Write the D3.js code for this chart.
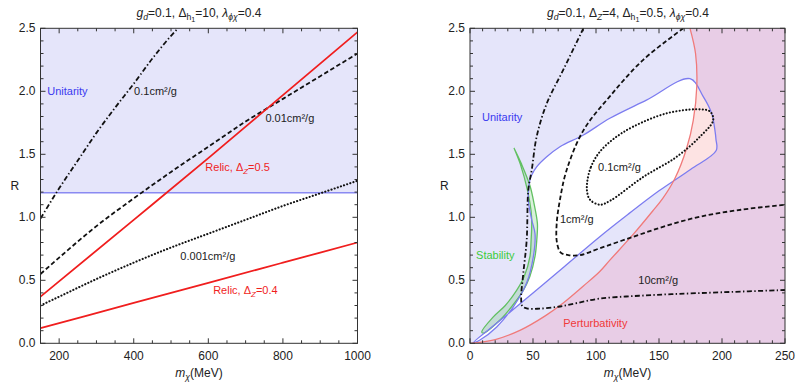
<!DOCTYPE html>
<html>
<head>
<meta charset="utf-8">
<script src="https://cdn.jsdelivr.net/npm/d3@7"></script>
<style>
  body { margin: 0; background: #fff; }
  svg text { font-family: "Liberation Sans", Arial, sans-serif; }
</style>
</head>
<body>
<div id="chart"></div>
<script>
// ---- left panel data (m in MeV, R) ----
const sig01L_m = [150, 200, 250, 300, 350, 400, 450, 500, 519];
const sig01L_R = [0.99, 1.23, 1.45, 1.67, 1.87, 2.06, 2.26, 2.44, 2.5];
const sig001L_m = [150, 200, 300, 400, 500, 600, 700, 800, 900, 1000];
const sig001L_R = [0.55, 0.68, 0.93, 1.15, 1.36, 1.56, 1.76, 1.94, 2.12, 2.30];
const sig0001L_m = [150, 200, 300, 400, 500, 600, 700, 800, 900, 1000];
const sig0001L_R = [0.30, 0.37, 0.51, 0.64, 0.76, 0.87, 0.98, 1.09, 1.19, 1.29];
const relic05_m = [150, 400, 600, 800, 1000];
const relic05_R = [0.37, 0.98, 1.47, 1.97, 2.47];
const relic04_m = [150, 400, 600, 800, 1000];
const relic04_R = [0.12, 0.32, 0.48, 0.64, 0.80];
const unitarityL_R = 1.195;

// ---- right panel data ----
// boundary of the region allowed by unitarity (white island)
const island = [[2,0.0],[25,0.19],[50,0.40],[75,0.61],[103,0.846],[125,1.02],[150,1.21],[175,1.38],[195.4,1.53],
  [195.2,1.62],[194.4,1.69],[191.8,1.825],[185,1.96],[174.6,2.10],[140,1.93],[111,1.786],[90,1.653],[71.4,1.56],
  [60.9,1.48],[52.9,1.40],[49,1.336],[47.6,1.30],[46.3,1.14],[49,0.98],[51.6,0.87],[50.3,0.69],[45,0.48],
  [34.4,0.29],[21.2,0.13],[7.9,0.026]];
// perturbativity boundary
const perturb = [[0,0],[20,0.03],[40,0.105],[60,0.22],[74,0.32],[90,0.455],[103,0.57],[111,0.66],[130,0.87],
  [145,1.05],[153,1.15],[162.7,1.31],[172,1.55],[177.2,1.77],[180,2.04],[179,2.3],[174.6,2.5]];
// stability crescent
const stabOuter = [[34.9,1.55],[41,1.42],[47.6,1.25],[51,1.10],[53.5,0.95],[53,0.82],[51.6,0.69],[47.5,0.53],
  [42.3,0.42],[33,0.29],[23.8,0.185],[10.6,0.08]];
const stabInner = [[9.3,0.09],[18.5,0.21],[28,0.30],[37,0.42],[43,0.53],[47.6,0.69],[48.5,0.82],[49,0.95],
  [48.5,1.05],[45.5,1.22],[40,1.42],[34.9,1.55]];
// cross-section contours
const sig10R = [[90,2.5],[74,2.17],[60.8,1.90],[52.9,1.64],[49,1.375],[46.3,1.22],[45,0.82],[42.3,0.555],
  [40.6,0.36],[41.5,0.295],[45,0.277],[55,0.275],[70,0.29],[85,0.32],[103,0.355],[130,0.375],[160,0.39],
  [200,0.405],[250,0.423]];
const sig1R = [[169.3,2.5],[137.5,2.25],[111,1.96],[90,1.69],[76.7,1.375],[71.4,1.14],[68.8,0.95],[69,0.80],
  [72,0.72],[78,0.70],[87.3,0.70],[103,0.754],[129.6,0.846],[155,0.93],[182.5,1.005],[215,1.06],[250,1.10]];
const sig01R = [[93,1.28],[96,1.40],[103,1.52],[115,1.63],[129.6,1.72],[156,1.825],[180,1.857],[190.5,1.84],
  [193,1.77],[182.5,1.64],[164,1.48],[137.5,1.32],[111,1.13],[103,1.10],[95.2,1.14],[93,1.20]];

// tick values
const yMajor = [0, 0.5, 1.0, 1.5, 2.0, 2.5];
const xMajorL = [200, 400, 600, 800, 1000];
const xMajorR = [0, 50, 100, 150, 200, 250];

const W = 797, H = 384;
const svg = d3.select("#chart").append("svg").attr("width", W).attr("height", H);

const y = d3.scaleLinear().domain([0, 2.5]).range([343.3, 28.3]);
const xL = d3.scaleLinear().domain([150, 1000]).range([40.5, 357.5]);
const xR = d3.scaleLinear().domain([0, 250]).range([470, 785]);

const FS = 12;
const subOff = [0, 0.28, 0.45];
const subSize = [1, 0.72, 0.6];

// text with italics / subscripts
function rich(g, x, yy, parts, fs, anchor, color) {
  const t = g.append("text").attr("x", x).attr("y", yy).attr("font-size", fs)
    .attr("text-anchor", anchor || "start").attr("fill", color || "#222");
  let lvl = 0;
  parts.forEach(p => {
    const L = p.s || 0;
    t.append("tspan")
      .attr("dy", ((subOff[L] - subOff[lvl]) * fs).toFixed(2))
      .attr("font-size", (fs * subSize[L]).toFixed(2))
      .attr("font-style", p.i ? "italic" : "normal")
      .text(p.t);
    lvl = L;
  });
  return t;
}

function frame(g, x, xMajor, xMinorStep, xFmt) {
  const [x0, x1] = x.range(), [y0, y1] = y.range();
  const ax = g.append("g").attr("stroke", "#333").attr("stroke-width", 1);
  const [d0, d1] = x.domain();
  const minorX = d3.range(Math.ceil(d0 / xMinorStep) * xMinorStep, d1 + 1e-6, xMinorStep);
  minorX.forEach(v => {
    const len = xMajor.some(m => Math.abs(m - v) < 1e-6) ? 5 : 3;
    ax.append("line").attr("x1", x(v)).attr("x2", x(v)).attr("y1", y0).attr("y2", y0 - len);
    ax.append("line").attr("x1", x(v)).attr("x2", x(v)).attr("y1", y1).attr("y2", y1 + len);
  });
  d3.range(0, 2.5001, 0.1).forEach(v => {
    const len = Math.abs(v * 2 - Math.round(v * 2)) < 1e-6 ? 5 : 3;
    ax.append("line").attr("y1", y(v)).attr("y2", y(v)).attr("x1", x0).attr("x2", x0 + len);
    ax.append("line").attr("y1", y(v)).attr("y2", y(v)).attr("x1", x1).attr("x2", x1 - len);
  });
  g.append("rect").attr("x", x0).attr("y", y1).attr("width", x1 - x0).attr("height", y0 - y1)
    .attr("fill", "none").attr("stroke", "#333").attr("stroke-width", 1);

  g.selectAll(null).data(xMajor).enter().append("text")
    .attr("x", d => x(d)).attr("y", 360).attr("text-anchor", "middle")
    .attr("font-size", FS).attr("fill", "#222").text(xFmt);
  g.selectAll(null).data(yMajor).enter().append("text")
    .attr("x", x0 - 5).attr("y", d => y(d) + 4).attr("text-anchor", "end")
    .attr("font-size", FS).attr("fill", "#222").text(d => d.toFixed(1));

  const cx = (x0 + x1) / 2;
  rich(g, cx, 377, [{t: "m", i: 1}, {t: "χ", i: 1, s: 1}, {t: "(MeV)"}], FS, "middle");
  g.append("text").attr("x", x0 - 30).attr("y", 190).attr("font-size", FS).attr("fill", "#222").text("R");
}

const black = "#111";
const styles = {
  dashed: {dash: "4.5,2.6", cap: "butt", w: 1.8},
  dotted: {dash: "0.1,3.2", cap: "round", w: 2.1},
  dashdot: {dash: "5,2.4,1.4,2.4", cap: "butt", w: 1.8}
};

function strokeLine(g, pts, x, curve, st, color, closed) {
  const line = d3.line().x(d => x(d[0])).y(d => y(d[1])).curve(curve);
  g.append("path").attr("d", line(pts) + (closed ? "Z" : ""))
    .attr("fill", "none").attr("stroke", color || black)
    .attr("stroke-width", st.w).attr("stroke-dasharray", st.dash || null)
    .attr("stroke-linecap", st.cap || "butt");
}

const zip = (a, b) => a.map((v, i) => [v, b[i]]);

// ================= LEFT PANEL =================
const gl = svg.append("g");
svg.append("clipPath").attr("id", "clipL").append("rect")
  .attr("x", xL.range()[0]).attr("y", y.range()[1])
  .attr("width", xL.range()[1] - xL.range()[0]).attr("height", y.range()[0] - y.range()[1]);
const pl = gl.append("g").attr("clip-path", "url(#clipL)");

pl.append("rect").attr("x", xL(150)).attr("y", y(2.5))
  .attr("width", xL(1000) - xL(150)).attr("height", y(unitarityL_R) - y(2.5))
  .attr("fill", "#e5e5fa");
pl.append("line").attr("x1", xL(150)).attr("x2", xL(1000))
  .attr("y1", y(unitarityL_R)).attr("y2", y(unitarityL_R))
  .attr("stroke", "#8a8af2").attr("stroke-width", 1.3);

strokeLine(pl, zip(sig01L_m, sig01L_R), xL, d3.curveMonotoneX, styles.dashdot);
strokeLine(pl, zip(sig001L_m, sig001L_R), xL, d3.curveMonotoneX, styles.dashed);
strokeLine(pl, zip(sig0001L_m, sig0001L_R), xL, d3.curveMonotoneX, styles.dotted);
strokeLine(pl, zip(relic05_m, relic05_R), xL, d3.curveMonotoneX, {w: 1.8}, "#f01e1e");
strokeLine(pl, zip(relic04_m, relic04_R), xL, d3.curveMonotoneX, {w: 1.8}, "#f01e1e");

frame(gl, xL, xMajorL, 50, d => d);

const LFS = 11;
rich(gl, xL(168), y(2.0) + 4, [{t: "Unitarity"}], LFS, "start", "#3a3af0");
rich(gl, xL(401), y(2.0) + 4, [{t: "0.1cm²/g"}], LFS);
rich(gl, xL(753), y(1.79) + 4, [{t: "0.01cm²/g"}], LFS);
rich(gl, xL(592), y(1.40) + 4, [{t: "Relic, Δ"}, {t: "Z", i: 1, s: 1}, {t: "=0.5", s: 0}], LFS, "start", "#f01e1e");
rich(gl, xL(525), y(0.69) + 4, [{t: "0.001cm²/g"}], LFS);
rich(gl, xL(613), y(0.42) + 4, [{t: "Relic, Δ"}, {t: "Z", i: 1, s: 1}, {t: "=0.4", s: 0}], LFS, "start", "#f01e1e");

rich(gl, 199, 17, [{t: "g", i: 1}, {t: "d", i: 1, s: 1}, {t: "=0.1, Δ", s: 0}, {t: "h", s: 1}, {t: "1", s: 2},
  {t: "=10, ", s: 0}, {t: "λ", i: 1}, {t: "ϕχ", i: 1, s: 1}, {t: "=0.4", s: 0}], FS, "middle");

// ================= RIGHT PANEL =================
const gr = svg.append("g");
svg.append("clipPath").attr("id", "clipR").append("rect")
  .attr("x", xR.range()[0]).attr("y", y.range()[1])
  .attr("width", xR.range()[1] - xR.range()[0]).attr("height", y.range()[0] - y.range()[1]);
const pr = gr.append("g").attr("clip-path", "url(#clipR)");

const area = d3.line().x(d => xR(d[0])).y(d => y(d[1])).curve(d3.curveCatmullRom);
const areaClosed = d3.line().x(d => xR(d[0])).y(d => y(d[1])).curve(d3.curveCatmullRomClosed);

// unitarity excluded everywhere except the island
pr.append("rect").attr("x", xR(0)).attr("y", y(2.5))
  .attr("width", xR(250) - xR(0)).attr("height", y(0) - y(2.5)).attr("fill", "#e5e5fa");
// perturbativity region (to the right of the red curve)
const pertPoly = perturb.concat([[250, 2.5], [250, 0]]);
const pertPath = area(perturb) + "L" + xR(260) + "," + y(2.6) + "L" + xR(260) + "," + y(-0.1) + "Z";
pr.append("path").attr("d", pertPath).attr("fill", "#e8cde6");
// white island
const islandPath = areaClosed(island);
svg.append("clipPath").attr("id", "clipIsland").append("path").attr("d", islandPath);
pr.append("path").attr("d", islandPath).attr("fill", "#fff");
pr.append("g").attr("clip-path", "url(#clipIsland)")
  .append("path").attr("d", pertPath).attr("fill", "#fde3e3");

// stability crescent
const stab = stabOuter.concat(stabInner);
pr.append("path").attr("d", areaClosed(stab))
  .attr("fill", "rgba(80,185,90,0.22)").attr("stroke", "#62c062").attr("stroke-width", 1.3);

// boundaries
pr.append("path").attr("d", islandPath).attr("fill", "none").attr("stroke", "#7c7cf0").attr("stroke-width", 1.3);
pr.append("path").attr("d", area(perturb)).attr("fill", "none").attr("stroke", "#f07a7a").attr("stroke-width", 1.3);

strokeLine(pr, sig10R, xR, d3.curveCatmullRom, styles.dashdot);
strokeLine(pr, sig1R, xR, d3.curveCatmullRom, styles.dashed);
strokeLine(pr, sig01R, xR, d3.curveCatmullRomClosed, styles.dotted);

frame(gr, xR, xMajorR, 10, d => d);

rich(gr, xR(9.5), y(1.80) + 4, [{t: "Unitarity"}], LFS, "start", "#3a3af0");
rich(gr, xR(4.8), y(0.70) + 4, [{t: "Stability"}], LFS, "start", "#3ccc3c");
rich(gr, xR(74), y(0.16) + 4, [{t: "Perturbativity"}], LFS, "start", "#f03a3a");
rich(gr, xR(71.4), y(0.99) + 4, [{t: "1cm²/g"}], LFS);
rich(gr, xR(133.6), y(0.50) + 4, [{t: "10cm²/g"}], LFS);
rich(gr, xR(101.6), y(1.40) + 4, [{t: "0.1cm²/g"}], LFS);

rich(gr, 628, 17, [{t: "g", i: 1}, {t: "d", i: 1, s: 1}, {t: "=0.1, Δ", s: 0}, {t: "Z", i: 1, s: 1},
  {t: "=4, Δ", s: 0}, {t: "h", s: 1}, {t: "1", s: 2}, {t: "=0.5, ", s: 0}, {t: "λ", i: 1}, {t: "ϕχ", i: 1, s: 1},
  {t: "=0.4", s: 0}], FS, "middle");
</script>
</body>
</html>
